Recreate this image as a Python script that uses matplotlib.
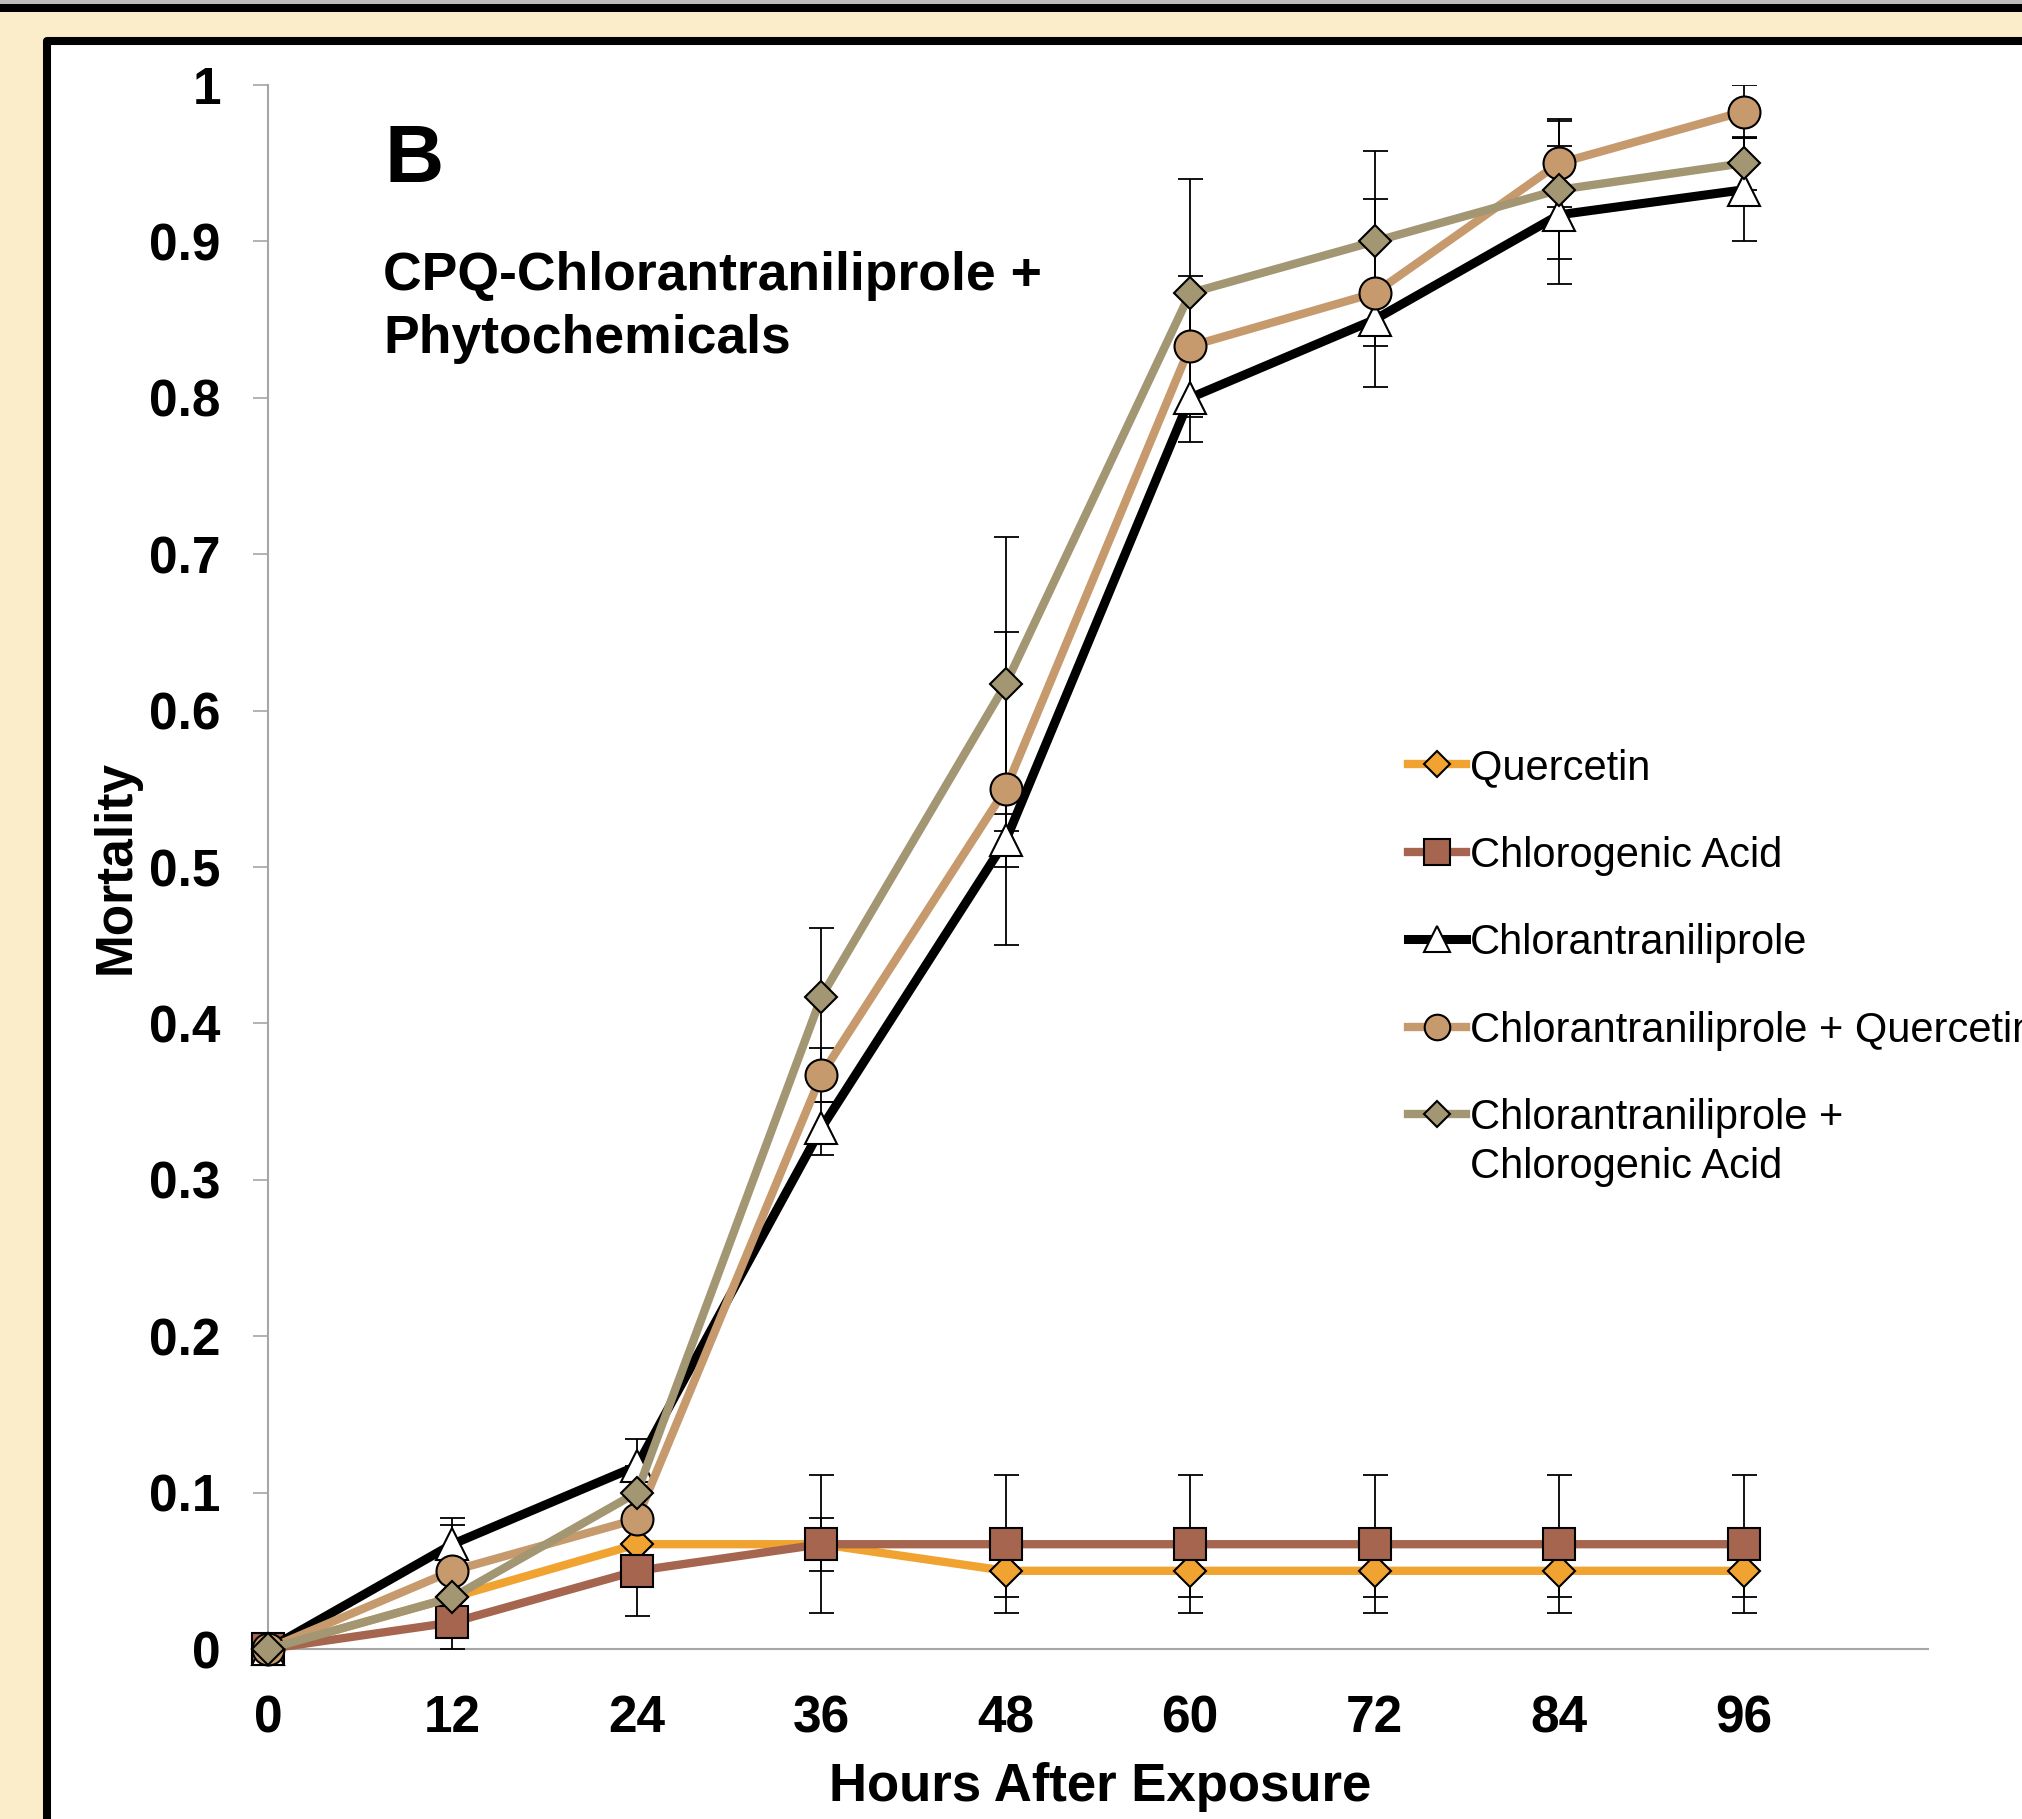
import matplotlib
matplotlib.use("Agg")
import matplotlib.pyplot as plt
from matplotlib.patches import Rectangle

plt.rcParams['font.family'] = ['Liberation Sans', 'DejaVu Sans']

# data
hours = [0, 12, 24, 36, 48, 60, 72, 84, 96]
quercetin = [0, 0.033, 0.067, 0.067, 0.05, 0.05, 0.05, 0.05, 0.05]
quercetin_err = [0, 0.017, 0.017, 0.017, 0.017, 0.017, 0.017, 0.017, 0.017]
chlorogenic = [0, 0.017, 0.05, 0.067, 0.067, 0.067, 0.067, 0.067, 0.067]
chlorogenic_err = [0, 0.017, 0.029, 0.044, 0.044, 0.044, 0.044, 0.044, 0.044]
chlorant = [0, 0.067, 0.117, 0.333, 0.517, 0.8, 0.85, 0.917, 0.933]
chlorant_err = [0, 0.017, 0.017, 0.017, 0.017, 0.028, 0.017, 0.044, 0.033]
chlorant_querc = [0, 0.05, 0.083, 0.367, 0.55, 0.833, 0.867, 0.95, 0.983]
chlorant_querc_err = [0, 0.029, 0.017, 0.017, 0.1, 0.045, 0.06, 0.028, 0.017]
chlorant_chlor = [0, 0.033, 0.1, 0.417, 0.617, 0.867, 0.9, 0.933, 0.95]
chlorant_chlor_err = [0, 0.017, 0.017, 0.044, 0.094, 0.073, 0.058, 0.044, 0.017]

# last label wraps onto a second line (drawn below the legend row)
labels = ['Quercetin', 'Chlorogenic Acid', 'Chlorantraniliprole',
          'Chlorantraniliprole + Quercetin', 'Chlorantraniliprole +']
label_wrap = 'Chlorogenic Acid'
yticks = [0, 0.1, 0.2, 0.3, 0.4, 0.5, 0.6, 0.7, 0.8, 0.9, 1]
ytick_labels = ['0', '0.1', '0.2', '0.3', '0.4', '0.5', '0.6', '0.7', '0.8', '0.9', '1']

W, H = 2022, 1819
fig = plt.figure(figsize=(W / 100, H / 100), dpi=100, facecolor='#FCEDCA')

# screenshot frame: grey/black strip on top, white panel with black border
fig.patches.append(Rectangle((0, 1 - 4 / H), 1, 4 / H, transform=fig.transFigure,
                             facecolor='#BDBDBD', edgecolor='none', zorder=-5))
fig.patches.append(Rectangle((0, 1 - 12 / H), 1, 8 / H, transform=fig.transFigure,
                             facecolor='black', edgecolor='none', zorder=-5))
fig.patches.append(Rectangle((47 / W, -0.05), 1.1, (H - 41) / H + 0.05, transform=fig.transFigure,
                             facecolor='white', edgecolor='black', linewidth=5.8,
                             joinstyle='round', zorder=-4))

ax = fig.add_axes([268 / W, 1 - 1649 / H, (1928 - 268) / W, (1649 - 85) / H])
ax.set_facecolor('none')
ax.set_xlim(0, 108)
ax.set_ylim(0, 1)

series = [
    (quercetin, quercetin_err, '#F0A330', 'D', 16.5, '#F0A330', 6.0),
    (chlorogenic, chlorogenic_err, '#A6654E', 's', 23, '#A6654E', 6.0),
    (chlorant, chlorant_err, 'black', '^', 23, 'white', 6.5),
    (chlorant_querc, chlorant_querc_err, '#C69A6D', 'o', 23, '#C69A6D', 6.0),
    (chlorant_chlor, chlorant_chlor_err, '#A39672', 'D', 16.5, '#A39672', 6.0),
]

handles = []
for i, (vals, err, col, mk, ms, fc, lw) in enumerate(series):
    ax.errorbar(hours, vals, yerr=err, fmt='none', ecolor='black', elinewidth=1.3,
                capsize=9, capthick=1.3, zorder=3)
    ln, = ax.plot(hours, vals, color=col, lw=lw, marker=mk, markersize=ms,
                  markerfacecolor=fc, markeredgecolor='black', markeredgewidth=1.5,
                  clip_on=False, zorder=4 + i, label=labels[i])
    handles.append(ln)

for s in ['top', 'right']:
    ax.spines[s].set_visible(False)
for s in ['left', 'bottom']:
    ax.spines[s].set_color('#A6A6A6')
    ax.spines[s].set_linewidth(1.5)

ax.set_yticks(yticks)
ax.set_yticklabels(ytick_labels, fontweight='bold')
ax.set_xticks(hours)
ax.set_xticklabels([str(h) for h in hours], fontweight='bold')
ax.tick_params(axis='y', length=11, width=1.2, color='#A6A6A6', pad=23, labelsize=37)
ax.tick_params(axis='x', length=0, pad=32.5, labelsize=37)

fig.text(130 / W, 1 - 867 / H, 'Mortality', rotation=90, rotation_mode='anchor',
         ha='center', va='baseline', fontsize=37, fontweight='bold')
fig.text(1100 / W, 1 - 1801 / H, 'Hours After Exposure', ha='center', va='baseline',
         fontsize=38, fontweight='bold')

fig.text(384 / W, 1 - 182 / H, 'B', ha='left', va='baseline', fontsize=59, fontweight='bold')
fig.text(383 / W, 1 - 290 / H, 'CPQ-Chlorantraniliprole +', ha='left', va='baseline',
         fontsize=38.5, fontweight='bold')
fig.text(383 / W, 1 - 353 / H, 'Phytochemicals', ha='left', va='baseline',
         fontsize=38.5, fontweight='bold')

leg = ax.legend(handles=handles, loc='upper left', bbox_to_anchor=(1408 / W, 1 - 748 / H),
                bbox_transform=fig.transFigure, frameon=False, fontsize=30,
                handlelength=1.39, handletextpad=0.1, labelspacing=1.14,
                borderpad=0, borderaxespad=0, markerscale=0.8)

# second line of the last legend label, one line-height below the first
fig.canvas.draw()
bb = leg.get_texts()[-1].get_window_extent()
fig.text(bb.x0 / W, (bb.y0 - 49) / H, label_wrap, ha='left', va='bottom', fontsize=30)

fig.savefig('out.png', dpi=100, facecolor=fig.get_facecolor())
